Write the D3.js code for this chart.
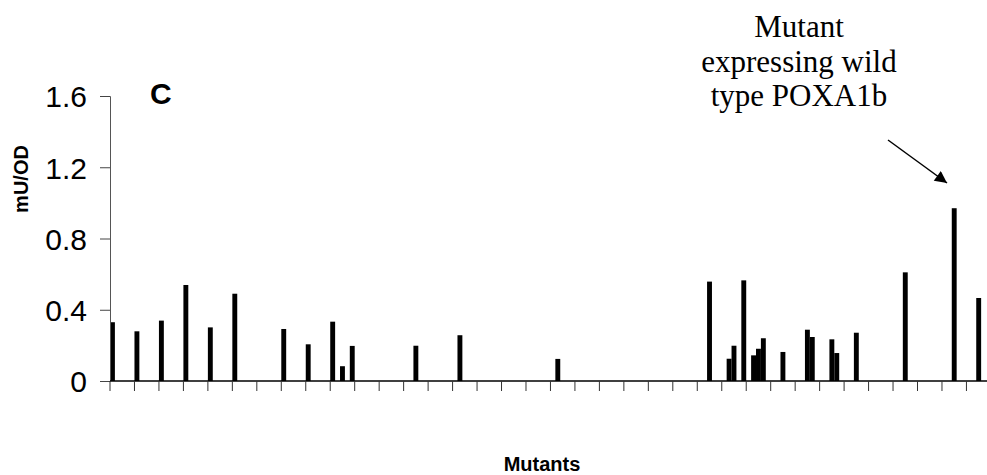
<!DOCTYPE html>
<html>
<head>
<meta charset="utf-8">
<script src="https://cdn.jsdelivr.net/npm/d3@7"></script>
<style>
  body { margin: 0; background: #fff; }
  svg { display: block; }
  .axis text { font-family: "Liberation Sans", Arial, sans-serif; }
</style>
</head>
<body>
<div id="chart"><svg></svg></div>
<script>
// mutant slots on the x axis (180 slots, tick every 5) and their activity
var nSlots = 180;
var mutantSlots = [0, 5, 10, 15, 20, 25, 35, 40, 45, 47, 49, 62, 71, 91,
    122, 126, 127, 129, 131, 132, 133, 137, 142, 143, 147, 148, 152, 162, 172, 177];
var activity = [0.330, 0.279, 0.339, 0.539, 0.301, 0.490, 0.292, 0.206, 0.333, 0.083, 0.197, 0.198, 0.257, 0.124,
    0.558, 0.125, 0.198, 0.565, 0.144, 0.181, 0.240, 0.163, 0.288, 0.247, 0.234, 0.157, 0.271, 0.610, 0.970, 0.466];
var yTicks = [0, 0.4, 0.8, 1.2, 1.6];
var noteLines = ["Mutant", "expressing wild", "type POXA1b"];

var width = 987, height = 475;
var svg = d3.select("#chart svg").attr("width", width).attr("height", height);

var x = d3.scaleBand().domain(d3.range(nSlots)).range([110, 110 + nSlots * 4.894]).padding(0),
    y = d3.scaleLinear().domain([0, 1.6]).range([381, 96]);

var data = mutantSlots.map(function (s, i) {
    return { slot: s, value: activity[i] };
});

// bars
svg.append("g").selectAll("rect")
    .data(data)
    .enter().append("rect")
    .attr("x", function (d) { return x(d.slot); })
    .attr("width", x.bandwidth())
    .attr("y", function (d) { return y(d.value); })
    .attr("height", function (d) { return y(0) - y(d.value); })
    .attr("fill", "#000");

// y axis
var yAxis = svg.append("g")
    .attr("class", "axis")
    .attr("transform", "translate(110,0)")
    .call(d3.axisLeft(y).tickValues(yTicks).tickSize(10).tickPadding(13)
        .tickFormat(function (d) { return d === 0 ? "0" : d3.format(".1f")(d); }));
yAxis.select(".domain").attr("stroke", "#555");
yAxis.selectAll(".tick line").attr("stroke", "#444");
yAxis.selectAll("text").style("font-size", "30px").attr("fill", "#000").attr("dy", "0.36em");

// x axis: ticks at every 5th slot boundary
var xTickSlots = d3.range(0, nSlots + 1, 5);
var xg = svg.append("g").attr("class", "axis");
xg.append("line")
    .attr("x1", x.range()[0]).attr("x2", x.range()[1])
    .attr("y1", y(0)).attr("y2", y(0))
    .attr("stroke", "#000").attr("stroke-width", 1.4);
xg.selectAll(".xt")
    .data(xTickSlots)
    .enter().append("line")
    .attr("class", "xt")
    .attr("x1", function (d) { return x.range()[0] + d * x.step(); })
    .attr("x2", function (d) { return x.range()[0] + d * x.step(); })
    .attr("y1", y(0)).attr("y2", y(0) + 10)
    .attr("stroke", "#333").attr("stroke-width", 1);

// axis titles
svg.append("text")
    .attr("transform", "translate(28,179) rotate(-90)")
    .attr("text-anchor", "middle")
    .style("font", "bold 20px 'Liberation Sans', Arial, sans-serif")
    .text("mU/OD");

svg.append("text")
    .attr("x", 542).attr("y", 471)
    .attr("text-anchor", "middle")
    .style("font", "bold 20px 'Liberation Sans', Arial, sans-serif")
    .text("Mutants");

// panel letter
svg.append("text")
    .attr("x", 150).attr("y", 104)
    .style("font", "bold 30px 'Liberation Sans', Arial, sans-serif")
    .text("C");

// annotation
svg.append("g").selectAll("text")
    .data(noteLines)
    .enter().append("text")
    .attr("x", 799)
    .attr("y", function (d, i) { return 37 + i * 34.5; })
    .attr("text-anchor", "middle")
    .style("font", "31px 'Liberation Serif', 'Times New Roman', serif")
    .text(function (d) { return d; });

svg.append("defs").append("marker")
    .attr("id", "head")
    .attr("viewBox", "0 0 10 10")
    .attr("refX", 10).attr("refY", 5)
    .attr("markerWidth", 17).attr("markerHeight", 12)
    .attr("markerUnits", "userSpaceOnUse")
    .attr("orient", "auto")
    .append("path").attr("d", "M0,0 L10,5 L0,10 Z").attr("fill", "#000");

svg.append("line")
    .attr("x1", 888).attr("y1", 140)
    .attr("x2", 947).attr("y2", 183)
    .attr("stroke", "#000").attr("stroke-width", 1.5)
    .attr("marker-end", "url(#head)");
</script>
</body>
</html>
